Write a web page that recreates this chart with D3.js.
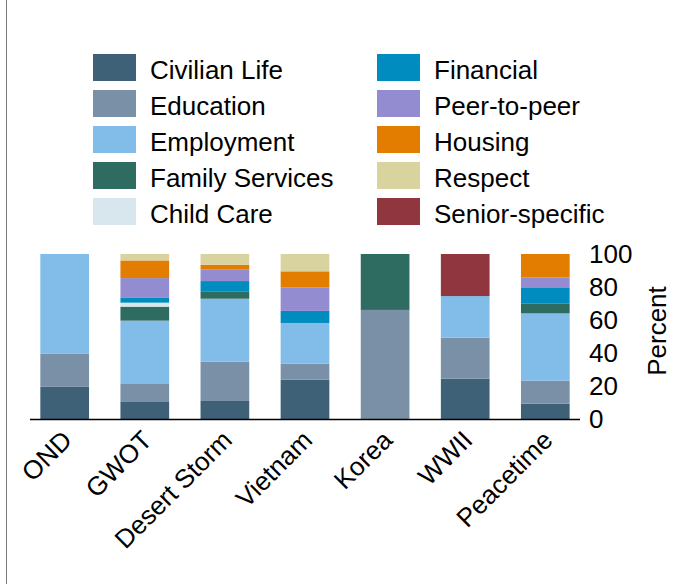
<!DOCTYPE html>
<html>
<head>
<meta charset="utf-8">
<script src="https://cdn.jsdelivr.net/npm/d3@7"></script>
<style>
  body { margin: 0; background: #fff; }
  svg { display: block; font-family: "Liberation Sans", Arial, sans-serif; }
</style>
</head>
<body>
<svg id="chart" width="692" height="584"></svg>
<script>
// categories along the x axis
var eras = ["OND", "GWOT", "Desert Storm", "Vietnam", "Korea", "WWII", "Peacetime"];

// series, bottom to top
var services = ["Civilian Life", "Education", "Employment", "Family Services", "Child Care",
                "Financial", "Peer-to-peer", "Housing", "Respect", "Senior-specific"];
var colours = ["#3e6178", "#7a90a6", "#81bde8", "#2e6c61", "#d8e6ed",
               "#008cbf", "#938cd0", "#e27d00", "#d9d49f", "#8f363f"];

// percent per era, one array per service (same order as eras)
var civilianLife   = [19.5, 10.3, 11.3, 23.8, 0,    24.4, 9.3];
var education      = [20,   10.9, 23.4, 9.7,  66.1, 24.9, 13.9];
var employment     = [60.5, 38.4, 38.2, 24.7, 0,    25.2, 40.8];
var familyServices = [0,    8.5,  4.5,  0,    33.9, 0,    6.1];
var childCare      = [0,    2.4,  0,    0,    0,    0,    0];
var financial      = [0,    3.2,  6.2,  7.3,  0,    0,    9.7];
var peerToPeer     = [0,    11.7, 6.9,  14.3, 0,    0,    5.9];
var housing        = [0,    10.7, 3.0,  9.7,  0,    0,    14.3];
var respect        = [0,    3.9,  6.5,  10.5, 0,    0,    0];
var seniorSpecific = [0,    0,    0,    0,    0,    25.5, 0];

var yTicks = [0, 20, 40, 60, 80, 100];

var seriesValues = [civilianLife, education, employment, familyServices, childCare,
                    financial, peerToPeer, housing, respect, seniorSpecific];

var rows = eras.map(function(e, i) {
  var r = { era: e };
  services.forEach(function(s, j) { r[s] = seriesValues[j][i]; });
  return r;
});

var svg = d3.select("#chart");

// frame edge on the left
svg.append("line")
    .attr("x1", 6.5).attr("x2", 6.5)
    .attr("y1", 0).attr("y2", 584)
    .attr("stroke", "#7a7a7a")
    .attr("stroke-width", 1);

var x = d3.scaleBand()
    .domain(eras)
    .range([30, 580])
    .paddingInner(0.392)
    .paddingOuter(0.129);

var y = d3.scaleLinear()
    .domain([0, 100])
    .range([419, 254]);

var color = d3.scaleOrdinal().domain(services).range(colours);

var stack = d3.stack().keys(services);
var layers = stack(rows);

svg.append("g")
    .selectAll("g")
    .data(layers)
    .enter().append("g")
    .attr("fill", function(d) { return color(d.key); })
  .selectAll("rect")
    .data(function(d) { return d; })
    .enter().append("rect")
    .attr("x", function(d) { return x(d.data.era); })
    .attr("width", x.bandwidth())
    .attr("y", function(d) { return y(d[1]); })
    .attr("height", function(d) { return y(d[0]) - y(d[1]); });

// x axis line and rotated labels
svg.append("line")
    .attr("x1", 30).attr("x2", 580)
    .attr("y1", 419.5).attr("y2", 419.5)
    .attr("stroke", "#000")
    .attr("stroke-width", 1.5);

svg.append("g")
    .selectAll("text")
    .data(eras)
    .enter().append("text")
    .attr("transform", function(d) {
      return "translate(" + (x(d) + x.bandwidth() / 2 - 5) + ",428) rotate(-45)";
    })
    .attr("text-anchor", "end")
    .attr("dy", "0.75em")
    .style("font-size", "26px")
    .attr("fill", "#000")
    .text(function(d) { return d; });

// y axis on the right, no tick marks or domain line
var yAxis = svg.append("g")
    .attr("transform", "translate(589,0)")
    .call(d3.axisRight(y).tickValues(yTicks).tickSize(0).tickPadding(0));
yAxis.select(".domain").remove();
yAxis.selectAll("text")
    .style("font-size", "26px")
    .style("font-family", "Liberation Sans, Arial, sans-serif")
    .attr("fill", "#000");

svg.append("text")
    .attr("transform", "translate(666,331) rotate(-90)")
    .attr("text-anchor", "middle")
    .style("font-size", "26px")
    .attr("fill", "#000")
    .text("Percent");

// legend, two columns of five
var legend = svg.append("g")
    .selectAll("g")
    .data(services)
    .enter().append("g")
    .attr("transform", function(d, i) {
      var lx = i < 5 ? 93 : 377;
      var ly = 54 + 36 * (i % 5);
      return "translate(" + lx + "," + ly + ")";
    });

legend.append("rect")
    .attr("width", 43)
    .attr("height", 27)
    .attr("fill", function(d) { return color(d); });

legend.append("text")
    .attr("x", 57)
    .attr("y", 25)
    .style("font-size", "26px")
    .attr("fill", "#000")
    .text(function(d) { return d; });
</script>
</body>
</html>
